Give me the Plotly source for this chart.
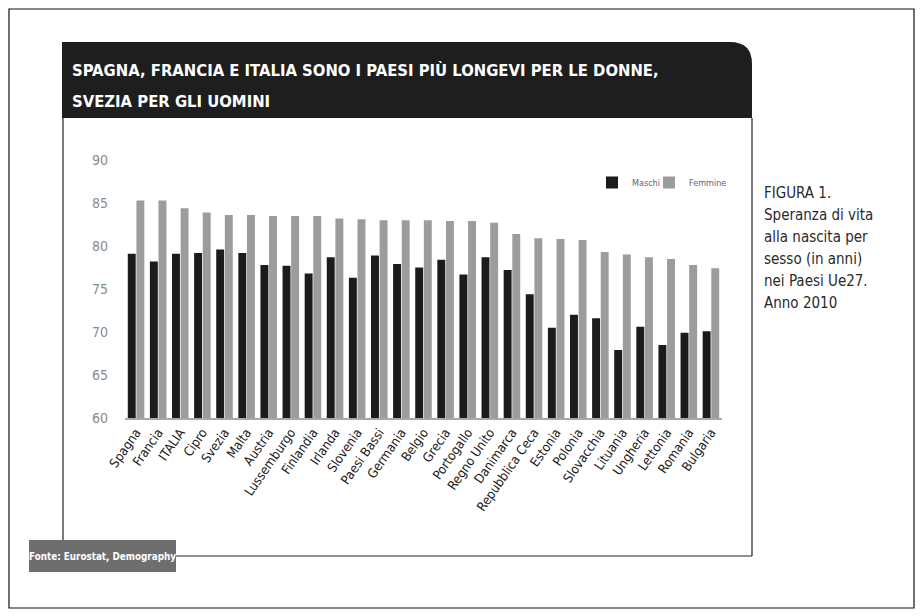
import plotly.graph_objects as go

OFF = 8  # page body margin
W, H = 923 - OFF, 616 - OFF

paesi = ["Spagna", "Francia", "ITALIA", "Cipro", "Svezia", "Malta", "Austria",
         "Lussemburgo", "Finlandia", "Irlanda", "Slovenia", "Paesi Bassi",
         "Germania", "Belgio", "Grecia", "Portogallo", "Regno Unito",
         "Danimarca", "Repubblica Ceca", "Estonia", "Polonia", "Slovacchia",
         "Lituania", "Ungheria", "Lettonia", "Romania", "Bulgaria"]
maschi = [79.1, 78.2, 79.1, 79.2, 79.6, 79.2, 77.8, 77.7, 76.8, 78.7, 76.3, 78.9,
          77.9, 77.5, 78.4, 76.7, 78.7, 77.2, 74.4, 70.5, 72.0, 71.6, 67.9, 70.6,
          68.5, 69.9, 70.1]
femmine = [85.3, 85.3, 84.4, 83.9, 83.6, 83.6, 83.5, 83.5, 83.5, 83.2, 83.1, 83.0,
           83.0, 83.0, 82.9, 82.9, 82.7, 81.4, 80.9, 80.8, 80.7, 79.3, 79.0, 78.7,
           78.5, 77.8, 77.4]
y_ticks = [60, 65, 70, 75, 80, 85, 90]

title_lines = ["SPAGNA, FRANCIA E ITALIA SONO I PAESI PIÙ LONGEVI PER LE DONNE,",
               "SVEZIA PER GLI UOMINI"]
side_lines = ["FIGURA 1.", "Speranza di vita", "alla nascita per", "sesso (in anni)",
              "nei Paesi Ue27.", "Anno 2010"]
fonte = "Fonte: Eurostat, Demography"

NARROW = "DejaVu Sans Condensed, Liberation Sans Narrow, sans-serif"


def px(x):
    return (x - OFF) / W


def py(y):
    return 1 - (y - OFF) / H


fig = go.Figure()
fig.add_trace(go.Bar(x=paesi, y=maschi, name="Maschi", marker_color="#1b1b1b",
                     marker_line_width=0, legend="legend"))
fig.add_trace(go.Bar(x=paesi, y=femmine, name="Femmine", marker_color="#9c9c9c",
                     marker_line_width=0, legend="legend2"))

shapes = []
# outer page frame
shapes.append(dict(type="rect", xref="paper", yref="paper", x0=px(9), x1=px(914),
                   y0=py(608), y1=py(9), line=dict(color="#111", width=1.2)))
# title bar with rounded top-right corner
x0, x1, y0, y1, r = 62, 752, 42, 118, 22
path = (f"M {px(x0)},{py(y1)} L {px(x0)},{py(y0)} L {px(x1 - r)},{py(y0)} "
        f"Q {px(x1)},{py(y0)} {px(x1)},{py(y0 + r)} L {px(x1)},{py(y1)} Z")
shapes.append(dict(type="path", xref="paper", yref="paper", path=path,
                   fillcolor="#1e1e1e", line=dict(width=0)))
# panel borders
shapes.append(dict(type="line", xref="paper", yref="paper", x0=px(63), x1=px(63),
                   y0=py(118), y1=py(540), line=dict(color="#222", width=1.2)))
shapes.append(dict(type="line", xref="paper", yref="paper", x0=px(752), x1=px(752),
                   y0=py(118), y1=py(556), line=dict(color="#222", width=1.2)))
shapes.append(dict(type="line", xref="paper", yref="paper", x0=px(176), x1=px(752),
                   y0=py(556), y1=py(556), line=dict(color="#222", width=1.2)))
# source box
shapes.append(dict(type="rect", xref="paper", yref="paper", x0=px(29), x1=px(176),
                   y0=py(572), y1=py(540), fillcolor="#6e6e6e", line=dict(width=0)))

annotations = []
for t, yy in zip(title_lines, [70, 101]):
    annotations.append(dict(text=t, x=px(70), y=py(yy), xref="paper", yref="paper",
                            xanchor="left", yanchor="middle", showarrow=False,
                            font=dict(family=NARROW, size=16.5, color="white", weight="bold")))
for i, t in enumerate(side_lines):
    annotations.append(dict(text=t, x=px(762), y=py(193 + 22 * i), xref="paper", yref="paper",
                            xanchor="left", yanchor="middle", showarrow=False,
                            font=dict(family=NARROW, size=15, color="#2a2a2a")))
annotations.append(dict(text=fonte, x=px(102.5), y=py(556), xref="paper", yref="paper",
                        xanchor="center", yanchor="middle", showarrow=False,
                        font=dict(family=NARROW, size=9.8, color="white", weight="bold")))

leg_common = dict(orientation="h", yanchor="top", xanchor="left",
                  font=dict(family=NARROW, size=9, color="#666"),
                  itemwidth=30, bgcolor="rgba(0,0,0,0)")

fig.update_layout(
    width=W, height=H,
    margin=dict(l=0, r=0, t=0, b=0),
    paper_bgcolor="white", plot_bgcolor="white",
    barmode="group", bargap=0.22, bargroupgap=0.08,
    shapes=shapes, annotations=annotations,
    showlegend=True,
    legend=dict(x=px(592), y=py(168), **leg_common),
    legend2=dict(x=px(649), y=py(168), **leg_common),
    xaxis=dict(domain=[px(125), px(722)], range=[-0.5, 26.5], tickangle=-55,
               showline=True, linecolor="#a8a8a8", linewidth=1.5, ticks="",
               showgrid=False, automargin=False,
               tickfont=dict(family=NARROW, size=13, color="#1a1a1a")),
    yaxis=dict(domain=[py(418), py(160)], range=[60, 90], tickvals=y_ticks,
               showgrid=False, zeroline=False, showline=False, ticks="",
               automargin=False, ticklabelstandoff=16,
               tickfont=dict(family=NARROW, size=14, color="#8a8a8a")),
)

fig.write_html("out.html")
